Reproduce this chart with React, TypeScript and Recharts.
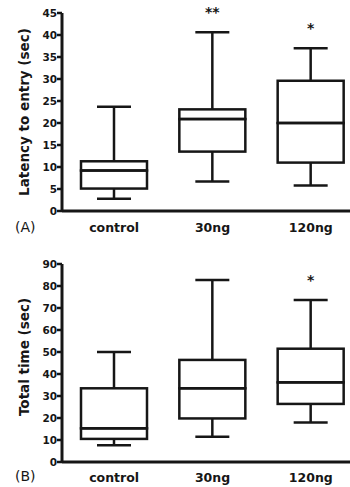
import { Bar, ComposedChart, LabelList, XAxis, YAxis } from "recharts";

const groups = ["control", "30ng", "120ng"];

// (A) latency to entry, sec
const latencyMin = [2.8, 6.7, 5.8];
const latencyQ1 = [5.1, 13.5, 11.0];
const latencyMedian = [9.2, 20.9, 20.0];
const latencyQ3 = [11.3, 23.1, 29.6];
const latencyMax = [23.7, 40.6, 37.0];
const latencyStars = ["", "**", "*"];
const latencyTicks = [0, 5, 10, 15, 20, 25, 30, 35, 40, 45];

// (B) total time, sec
const totalMin = [7.6, 11.5, 17.9];
const totalQ1 = [10.5, 19.8, 26.4];
const totalMedian = [15.3, 33.5, 36.2];
const totalQ3 = [33.5, 46.4, 51.5];
const totalMax = [50.0, 82.7, 73.6];
const totalStars = ["", "", "*"];
const totalTicks = [0, 10, 20, 30, 40, 50, 60, 70, 80, 90];

const INK = "#161616";
const FONT = "'DejaVu Sans', sans-serif";
const LINE = 2.5;
const CAP = 34;

function buildRows(
  min: number[],
  q1: number[],
  med: number[],
  q3: number[],
  max: number[],
  stars: string[],
) {
  return groups.map((name, i) => ({
    name,
    base: min[i],
    lowWhisker: q1[i] - min[i],
    lowBox: med[i] - q1[i],
    highBox: q3[i] - med[i],
    highWhisker: max[i] - q3[i],
    star: stars[i],
  }));
}

const latencyRows = buildRows(latencyMin, latencyQ1, latencyMedian, latencyQ3, latencyMax, latencyStars);
const totalRows = buildRows(totalMin, totalQ1, totalMedian, totalQ3, totalMax, totalStars);

function Empty() {
  return <g />;
}

function LowWhisker(props: any) {
  const { x, y, width, height } = props;
  const cx = x + width / 2;
  const bottom = y + height;
  return (
    <g stroke={INK} strokeWidth={LINE}>
      <line x1={cx} x2={cx} y1={y} y2={bottom} />
      <line x1={cx - CAP / 2} x2={cx + CAP / 2} y1={bottom} y2={bottom} />
    </g>
  );
}

function HighWhisker(props: any) {
  const { x, y, width, height } = props;
  const cx = x + width / 2;
  return (
    <g stroke={INK} strokeWidth={LINE}>
      <line x1={cx} x2={cx} y1={y} y2={y + height} />
      <line x1={cx - CAP / 2} x2={cx + CAP / 2} y1={y} y2={y} />
    </g>
  );
}

function BoxHalf(props: any) {
  const { x, y, width, height } = props;
  return <rect x={x} y={y} width={width} height={height} fill="none" stroke={INK} strokeWidth={LINE} />;
}

interface PanelProps {
  rows: ReturnType<typeof buildRows>;
  ticks: number[];
  yLabel: string;
  height: number;
  top: number;
  xAxisHeight: number;
  tickGap: number;
  labelDy: number;
}

function BoxPanel({ rows, ticks, yLabel, height, top, xAxisHeight, tickGap, labelDy }: PanelProps) {
  return (
    <ComposedChart width={360} height={height} data={rows} margin={{ top, right: 0, bottom: 0, left: 0 }}>
      <XAxis
        dataKey="name"
        height={xAxisHeight}
        interval={0}
        padding={{ left: 3, right: 0 }}
        tickLine={false}
        tickSize={0}
        tickMargin={tickGap}
        axisLine={{ stroke: INK, strokeWidth: 3 }}
        tick={{ fill: INK, fontSize: 12.5, fontWeight: "bold", fontFamily: FONT }}
      />
      <YAxis
        width={62}
        domain={[0, ticks[ticks.length - 1]]}
        ticks={ticks}
        interval={0}
        tickSize={5}
        tickMargin={0}
        axisLine={{ stroke: INK, strokeWidth: 3 }}
        tickLine={{ stroke: INK, strokeWidth: 2.5 }}
        tick={{ fill: INK, fontSize: 10.5, fontWeight: "bold", fontFamily: FONT }}
        label={{
          value: yLabel,
          angle: -90,
          position: "insideLeft",
          offset: 24,
          dy: labelDy,
          style: { textAnchor: "middle", fill: INK, fontSize: 13.5, fontWeight: "bold", fontFamily: FONT },
        }}
      />
      <Bar dataKey="base" stackId="box" barSize={66} fill="none" shape={<Empty />} isAnimationActive={false} />
      <Bar dataKey="lowWhisker" stackId="box" barSize={66} fill="none" shape={<LowWhisker />} isAnimationActive={false} />
      <Bar dataKey="lowBox" stackId="box" barSize={66} fill="none" shape={<BoxHalf />} isAnimationActive={false} />
      <Bar dataKey="highBox" stackId="box" barSize={66} fill="none" shape={<BoxHalf />} isAnimationActive={false} />
      <Bar dataKey="highWhisker" stackId="box" barSize={66} fill="none" shape={<HighWhisker />} isAnimationActive={false}>
        <LabelList dataKey="star" position="top" offset={15} fill={INK} fontSize={14} fontWeight="bold" fontFamily={FONT} />
      </Bar>
    </ComposedChart>
  );
}

const tagStyle: React.CSSProperties = {
  position: "absolute",
  left: 15,
  fontFamily: FONT,
  fontSize: 14,
  lineHeight: "14px",
  color: INK,
};

export default function App() {
  return (
    <div
      style={{
        position: "absolute",
        top: 0,
        left: 0,
        width: 350,
        height: 487,
        overflow: "hidden",
        background: "#fff",
      }}
    >
      <div style={{ position: "absolute", top: 0, left: 0 }}>
        <BoxPanel
          rows={latencyRows}
          ticks={latencyTicks}
          yLabel="Latency to entry (sec)"
          height={240}
          top={13}
          xAxisHeight={29}
          tickGap={12}
          labelDy={0}
        />
      </div>
      <div style={{ position: "absolute", top: 240, left: 0 }}>
        <BoxPanel
          rows={totalRows}
          ticks={totalTicks}
          yLabel="Total time (sec)"
          height={247}
          top={24}
          xAxisHeight={25}
          tickGap={11}
          labelDy={-6}
        />
      </div>
      <span style={{ ...tagStyle, top: 220 }}>(A)</span>
      <span style={{ ...tagStyle, top: 469 }}>(B)</span>
    </div>
  );
}
